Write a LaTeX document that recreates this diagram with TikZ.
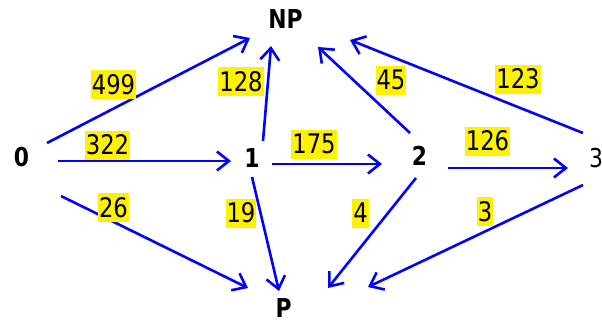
\documentclass[tikz,border=0pt]{standalone}
\usepackage{fontspec}
\usetikzlibrary{arrows.meta}
\newfontfamily\graphfont{DejaVu Sans}[FakeStretch=0.84]
\begin{document}
\begin{tikzpicture}[x=1pt,y=-1pt,
  vertex/.style={inner sep=0pt,font=\graphfont\fontsize{26}{26}\selectfont\bfseries},
  plainvertex/.style={inner sep=0pt,font=\graphfont\fontsize{26}{26}\selectfont},
  flow/.style={draw=blue,line width=2.6pt,
    -{Straight Barb[length=12pt,width=19pt]}},
  weight/.style={fill=yellow,inner xsep=1pt,inner ysep=0pt,minimum height=29pt,
    font=\graphfont\fontsize{27}{27}\selectfont}]
\useasboundingbox (0,0) rectangle (602,324);

% states
\node[vertex] (n0)  at (21.5,157.5) {0};
\node[vertex] (n1)  at (252,158.5) {1};
\node[vertex] (n2)  at (419.5,156) {2};
\node[plainvertex] (n3) at (596,158) {3};
\node[vertex] (nNP) at (285.5,19.5) {NP};
\node[vertex] (nP)  at (283.5,308.5) {P};

% transitions
\draw[flow] ([shift={(25.5,-14.5)}]n0.center) -- ([shift={(-35.5,18.5)}]nNP.center);
\draw[flow] ([shift={(36.5,3.5)}]n0.center)   -- ([shift={(-21,2.5)}]n1.center);
\draw[flow] ([shift={(39.5,38.5)}]n0.center)  -- ([shift={(-35.5,-20.5)}]nP.center);
\draw[flow] ([shift={(11,-17.5)}]n1.center)   -- ([shift={(-14.5,26.5)}]nNP.center);
\draw[flow] ([shift={(0,18.5)}]n1.center)     -- ([shift={(-4.5,-17.5)}]nP.center);
\draw[flow] ([shift={(20,5.5)}]n1.center)     -- ([shift={(-37.5,8)}]n2.center);
\draw[flow] ([shift={(-9.5,-23)}]n2.center)   -- ([shift={(32.5,27.5)}]nNP.center);
\draw[flow] ([shift={(-3.5,22)}]n2.center)    -- ([shift={(44.5,-20.5)}]nP.center);
\draw[flow] ([shift={(28.5,12)}]n2.center)    -- ([shift={(-28,10)}]n3.center);
\draw[flow] ([shift={(-13,-25)}]n3.center)    -- ([shift={(64.5,20.5)}]nNP.center);
\draw[flow] ([shift={(-13,27)}]n3.center)     -- ([shift={(84.5,-21.5)}]nP.center);

% weights
\node[weight] (w499) at (113.5,84.5) {499};
\node[weight] (w128) at (241,81.5)   {128};
\node[weight] (w322) at (107.5,145)  {322};
\node[weight] (w26)  at (113.5,207.5) {26};
\node[weight] (w19)  at (241,213)    {19};
\node[weight] (w175) at (314,144)    {175};
\node[weight] (w45)  at (391,80)     {45};
\node[weight] (w4)   at (360.5,213)  {4};
\node[weight] (w123) at (518,79)     {123};
\node[weight] (w126) at (487.5,141)  {126};
\node[weight] (w3)   at (485,211.5)  {3};
\end{tikzpicture}
\end{document}
